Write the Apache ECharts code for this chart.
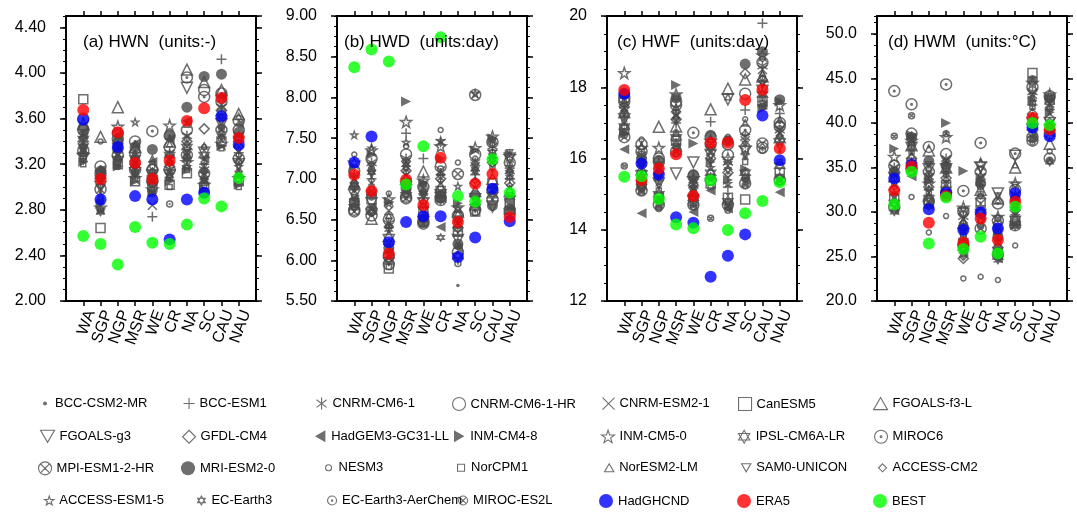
<!DOCTYPE html>
<html><head><meta charset="utf-8">
<script src="https://cdn.jsdelivr.net/npm/echarts@6.0.0/dist/echarts.min.js"></script>
<style>html,body{margin:0;padding:0;background:#fff;}#c{width:1077px;height:512px;}</style>
</head><body><div id="c"></div>
<script>
const categories = ['WA','SGP','NGP','MSR','WE','CR','NA','SC','CAU','NAU'];
const models = ['BCC-CSM2-MR','BCC-ESM1','CNRM-CM6-1','CNRM-CM6-1-HR','CNRM-ESM2-1','CanESM5','FGOALS-f3-L',
 'FGOALS-g3','GFDL-CM4','HadGEM3-GC31-LL','INM-CM4-8','INM-CM5-0','IPSL-CM6A-LR','MIROC6',
 'MPI-ESM1-2-HR','MRI-ESM2-0','NESM3','NorCPM1','NorESM2-LM','SAM0-UNICON','ACCESS-CM2',
 'ACCESS-ESM1-5','EC-Earth3','EC-Earth3-AerChem','MIROC-ES2L'];
const obsNames = ['HadGHCND','ERA5','BEST'];

// (a) HWN, one row per model, columns follow categories
const hwnModels = [
 [3.30,2.95,3.25,3.10,3.05,3.12,3.20,3.05,3.45,3.15],
 [3.35,3.02,3.30,3.15,2.74,3.20,3.25,3.20,4.12,3.30],
 [3.45,3.10,3.38,3.28,3.10,3.30,3.45,3.15,3.70,3.45],
 [3.50,3.12,3.42,3.30,3.15,3.35,3.50,3.85,3.75,3.50],
 [3.40,3.05,3.35,3.22,2.84,3.25,3.30,3.10,3.72,3.40],
 [3.77,2.64,3.20,3.05,3.00,3.02,3.12,3.00,3.40,3.05],
 [3.55,3.44,3.70,3.35,3.20,3.40,4.03,3.92,3.85,3.64],
 [3.25,3.00,3.22,3.12,3.00,3.10,3.87,3.30,3.55,3.20],
 [3.38,3.08,3.32,3.20,3.08,3.18,3.40,3.51,3.60,3.35],
 [3.48,3.15,3.45,3.38,3.22,3.42,3.58,3.25,3.80,3.55],
 [3.22,2.85,3.18,3.05,2.95,3.05,3.15,2.98,3.36,3.02],
 [3.28,2.82,3.53,3.08,2.98,3.54,3.22,3.02,3.38,3.08],
 [3.42,3.12,3.36,3.25,3.12,3.28,3.35,3.28,3.65,3.42],
 [3.60,3.18,3.47,3.40,3.49,3.45,3.96,3.79,3.82,3.58],
 [3.32,2.98,3.28,3.15,3.05,3.15,3.28,3.12,3.50,3.25],
 [3.52,3.14,3.40,3.35,3.33,3.45,3.70,3.97,3.99,3.48],
 [3.36,3.40,3.26,3.18,3.18,3.22,3.42,3.35,3.62,3.28],
 [3.20,2.90,3.20,3.10,3.02,3.00,3.15,3.05,3.34,3.00],
 [3.46,3.10,3.44,3.30,3.25,3.38,3.55,3.36,3.78,3.62],
 [3.34,3.00,3.30,3.16,3.10,3.20,3.32,3.18,3.56,3.32],
 [3.44,3.06,3.34,3.24,3.14,3.26,3.38,3.22,3.62,3.38],
 [3.36,2.80,3.30,3.57,3.06,3.14,3.18,3.08,3.48,3.18],
 [3.32,2.78,3.24,3.12,2.96,3.10,3.24,3.06,3.44,3.12],
 [3.30,2.80,3.22,3.14,2.94,2.85,3.26,3.04,3.42,3.10],
 [3.26,2.88,3.18,3.20,3.04,3.08,3.30,3.14,3.52,3.22]
];
const hwnHadGHCND = [3.59,2.89,3.35,2.92,2.89,2.54,2.89,2.95,3.62,3.37];
const hwnERA5     = [3.675,3.07,3.48,3.21,3.07,3.23,3.58,3.69,3.78,3.43];
const hwnBEST     = [2.57,2.50,2.32,2.65,2.51,2.50,2.67,2.90,2.83,3.08];

// (b) HWD
const hwdModels = [
 [6.85,6.95,6.35,7.05,6.75,6.95,5.69,7.00,7.10,6.90],
 [6.90,7.00,6.40,7.56,7.25,7.05,6.30,7.05,7.35,7.00],
 [7.05,7.20,6.45,7.25,6.85,7.45,6.45,7.20,7.40,7.10],
 [7.10,7.25,6.50,7.30,6.90,7.15,6.55,7.30,7.45,7.20],
 [7.00,7.15,6.61,7.20,6.80,7.10,6.50,7.15,7.30,7.05],
 [6.70,6.75,5.90,6.95,6.60,6.85,6.35,6.60,6.95,6.70],
 [6.95,6.51,6.30,7.00,7.09,6.90,6.60,6.85,7.00,6.85],
 [6.80,6.70,6.25,6.90,6.70,6.80,6.25,6.75,6.66,7.25],
 [6.90,6.85,6.20,7.10,6.65,7.00,6.40,6.95,7.20,6.95],
 [6.75,6.65,6.10,6.85,6.55,6.41,6.15,6.70,6.90,6.65],
 [7.15,7.30,6.72,7.95,6.95,7.25,6.70,7.35,7.50,7.30],
 [7.20,7.35,6.75,7.70,6.98,7.40,6.65,7.38,7.52,7.28],
 [6.65,6.60,6.00,6.80,6.50,6.75,6.05,6.65,6.80,6.60],
 [6.62,6.55,5.95,6.78,6.48,6.78,6.10,6.62,6.75,6.58],
 [6.60,6.62,6.05,6.76,6.45,6.74,7.06,8.03,6.85,6.62],
 [6.72,6.80,6.15,6.88,6.46,6.78,6.20,6.80,6.67,6.75],
 [7.30,7.18,6.82,7.40,6.92,7.60,7.20,7.25,7.42,7.18],
 [6.78,6.90,5.92,6.92,6.62,6.88,6.62,6.58,7.15,6.80],
 [6.98,7.10,6.55,7.15,6.88,7.08,6.58,7.10,7.25,7.12],
 [6.88,7.05,6.48,7.12,6.78,7.02,6.48,7.08,7.22,7.32],
 [6.82,6.98,6.42,7.08,6.72,6.98,6.42,6.98,7.18,6.92],
 [7.54,7.38,6.70,7.45,6.95,7.47,6.91,8.05,7.48,7.15],
 [6.92,7.08,6.38,7.18,6.82,6.28,6.38,7.12,7.28,7.02],
 [6.94,7.12,6.42,7.22,6.84,7.12,5.96,7.18,7.32,7.08],
 [6.66,6.58,6.02,6.82,6.52,6.82,6.18,6.68,6.82,6.64]
];
const hwdHadGHCND = [7.20,7.52,6.22,6.47,6.54,6.54,6.04,6.28,6.88,6.48];
const hwdERA5     = [7.05,6.85,6.08,6.99,6.68,7.26,6.47,6.94,7.06,6.53];
const hwdBEST     = [8.37,8.59,8.44,6.93,7.40,8.74,6.79,6.72,7.24,6.83];

// (c) HWF
const hwfModels = [
 [17.00,15.60,15.20,16.80,15.00,15.80,15.00,16.00,18.00,16.20],
 [17.20,15.80,15.40,17.00,15.20,17.03,15.20,17.36,19.80,17.26],
 [17.50,16.10,15.80,17.40,15.40,16.30,15.90,16.60,18.60,16.80],
 [17.60,16.20,15.90,17.50,15.50,16.40,16.10,17.82,18.70,16.90],
 [17.40,16.00,15.70,17.20,15.30,16.20,15.80,16.50,18.50,16.70],
 [16.80,15.30,14.90,16.50,14.80,15.30,14.90,14.85,17.60,15.60],
 [17.30,15.70,16.89,16.90,15.10,17.38,17.96,18.22,18.30,16.60],
 [17.10,15.50,15.30,15.58,15.89,16.10,17.66,16.20,17.90,16.40],
 [17.45,15.90,15.60,17.10,15.25,16.00,15.60,18.38,18.20,16.95],
 [16.26,14.46,14.80,16.30,14.50,15.10,14.60,15.40,17.50,15.05],
 [16.70,15.40,15.50,18.06,16.42,15.90,15.40,15.70,17.40,17.60],
 [18.40,16.30,16.30,17.80,15.45,16.50,16.00,16.30,18.90,17.50],
 [16.90,15.20,15.00,16.60,14.90,15.60,14.80,15.60,17.80,15.80],
 [17.70,16.40,16.00,17.60,16.72,16.60,16.40,16.80,16.30,17.00],
 [16.60,15.10,14.70,16.20,14.70,15.40,14.70,15.30,16.42,15.40],
 [17.80,16.00,15.95,17.70,15.55,16.65,16.50,18.65,19.00,17.65],
 [17.55,16.53,15.85,17.30,15.35,16.25,16.61,17.10,18.80,16.85],
 [16.90,15.40,15.10,16.70,15.05,15.20,16.55,15.90,17.70,15.90],
 [17.65,16.35,15.75,17.45,15.45,16.55,17.73,17.00,18.40,17.10],
 [17.25,15.75,15.45,17.05,15.15,16.05,15.65,16.40,18.10,16.55],
 [17.35,15.85,15.55,17.15,15.22,15.95,15.55,16.70,18.25,16.65],
 [17.15,15.65,15.35,17.25,15.12,15.75,15.30,16.10,18.15,16.45],
 [16.75,15.25,14.85,16.45,14.85,15.50,14.75,15.50,17.55,15.50],
 [16.65,15.15,14.60,16.35,14.75,15.45,14.65,15.45,16.23,15.45],
 [15.79,15.05,14.65,16.15,14.65,14.32,14.55,15.25,17.45,15.35]
];
const hwfHadGHCND = [17.82,15.86,15.55,14.35,14.20,12.68,13.27,13.87,17.21,15.95];
const hwfERA5     = [17.92,15.39,15.72,16.12,14.95,16.44,16.45,17.64,17.93,16.28];
const hwfBEST     = [15.49,15.50,14.86,14.15,14.04,15.39,13.99,14.46,14.81,15.33];

// (d) HWM
const hwmModels = [
 [33.0,36.5,32.0,34.0,28.0,35.8,27.0,30.0,41.5,41.0],
 [33.5,37.0,32.5,34.5,28.5,33.0,27.5,30.5,42.0,41.5],
 [35.0,38.5,34.0,36.0,29.5,34.0,28.5,32.0,43.5,42.5],
 [35.2,38.8,34.5,36.5,30.0,34.5,29.0,32.5,44.0,43.0],
 [34.8,38.2,33.8,35.8,29.2,33.8,28.2,31.8,43.2,42.2],
 [31.5,35.5,31.0,33.0,26.5,31.0,25.5,29.0,45.59,42.6],
 [34.0,37.5,36.9,35.0,28.8,32.5,31.5,35.0,40.5,37.67],
 [33.8,37.2,34.8,34.8,29.8,35.0,32.07,36.3,40.0,40.0],
 [32.5,36.0,32.8,33.8,24.78,31.5,26.0,30.2,41.0,40.5],
 [30.2,34.0,30.8,31.8,25.5,29.5,24.8,28.7,38.5,39.0],
 [37.1,38.6,33.5,39.99,34.6,33.5,28.0,28.5,42.5,41.2],
 [36.2,38.0,33.2,38.4,30.5,35.4,29.45,33.2,44.5,43.2],
 [31.0,35.2,31.5,32.5,26.0,30.0,25.0,29.2,39.5,39.5],
 [43.57,42.08,37.3,44.32,32.36,37.75,30.95,36.55,38.0,36.0],
 [30.5,34.8,31.2,32.2,26.2,28.14,25.2,28.5,38.4,38.8],
 [34.5,38.4,35.7,35.2,28.2,33.2,27.2,31.5,44.77,42.8],
 [32.0,31.69,27.7,29.53,22.54,22.73,22.35,26.24,37.8,36.8],
 [33.2,36.8,32.2,34.2,27.5,32.0,26.5,30.8,41.8,42.7],
 [34.2,37.8,35.0,35.5,29.0,34.2,31.3,35.3,42.8,41.8],
 [34.6,38.3,35.3,35.6,30.2,34.8,31.8,33.0,43.0,42.3],
 [32.8,36.2,32.5,33.6,24.9,31.8,26.2,30.4,40.8,40.2],
 [31.8,35.6,31.8,33.2,26.8,30.6,25.8,29.6,40.2,39.8],
 [30.0,35.0,30.6,32.0,25.2,29.0,24.6,28.4,38.2,35.6],
 [34.4,37.6,33.6,34.6,27.2,32.8,27.8,31.2,42.2,41.6],
 [38.49,40.81,34.2,38.79,27.8,28.4,29.3,30.1,39.2,35.8]
];
const hwmHadGHCND = [33.75,35.30,30.31,32.14,27.96,29.94,28.14,32.07,39.45,38.49];
const hwmERA5     = [32.44,35.10,28.78,31.80,26.54,29.27,26.84,31.13,40.58,39.27];
const hwmBEST     = [30.83,34.50,26.46,31.62,25.83,27.21,25.34,30.57,39.99,39.73];

const panelTitles = ['(a) HWN  (units:-)','(b) HWD  (units:day)','(c) HWF  (units:day)','(d) HWM  (units:°C)'];

// ---------- styling / layout ----------
const FONT = 'Liberation Sans, Arial, Helvetica, sans-serif';
const GRAY = '#4a4a4a';
const S = {
 circle:'path://M0,10A10,10,0,1,1,20,10A10,10,0,1,1,0,10Z',
 rect:'path://M0,0L10,0L10,10L0,10Z',
 tup:'path://M5,0L10,8.66L0,8.66Z',
 diamond:'path://M5,0L10,5L5,10L0,5Z',
 plus:'path://M5,0L5,10M0,5L10,5',
 aster:'path://M5,0L5,10M0.8,1.8L9.2,8.2M0.8,8.2L9.2,1.8',
 cross:'path://M0,0L10,10M10,0L0,10',
 tdown:'path://M0,0L10,0L5,8.66Z',
 tleft:'path://M0,5L8.66,0L8.66,10Z',
 tright:'path://M0,0L8.66,5L0,10Z',
 star:'path://M10,0L12.35,6.76L19.51,6.91L13.8,11.24L15.88,18.09L10,14L4.12,18.09L6.2,11.24L0.49,6.91L7.65,6.76Z',
 hexa:'path://M5,0L9.33,7.5L0.67,7.5ZM5,10L0.67,2.5L9.33,2.5Z',
 cdot:'path://M0,10A10,10,0,1,1,20,10A10,10,0,1,1,0,10ZM8.6,10A1.4,1.4,0,1,1,11.4,10A1.4,1.4,0,1,1,8.6,10Z',
 cx:'path://M0,10A10,10,0,1,1,20,10A10,10,0,1,1,0,10ZM2.93,2.93L17.07,17.07M17.07,2.93L2.93,17.07'
};
// [symbol, plotSize, filled, legendSize]
const modelStyle = [
 [S.circle,3.5,true,4],[S.plus,10,false,11],[S.aster,10,false,12],[S.circle,11,false,13],
 [S.cross,9,false,12],[S.rect,9,false,13],[S.tup,11,false,14],[S.tdown,11,false,14],
 [S.diamond,10,false,13],[S.tleft,10,true,12],[S.tright,10,true,12],[S.star,11,false,13],
 [S.hexa,10,false,13],[S.cdot,11,false,13],[S.cx,11,false,13],[S.circle,11,true,14],
 [S.circle,5,false,6],[S.rect,5,false,7],[S.tup,6,false,8],[S.tdown,6,false,8],
 [S.diamond,6,false,8],[S.star,7,false,9],[S.hexa,7,false,9],[S.cdot,6,false,9],[S.cx,6,false,9]
];
const obsColors = ['#0000ff','#ff0000','#00ff00'];

const panelData = [
 {models:hwnModels, obs:[hwnHadGHCND,hwnERA5,hwnBEST]},
 {models:hwdModels, obs:[hwdHadGHCND,hwdERA5,hwdBEST]},
 {models:hwfModels, obs:[hwfHadGHCND,hwfERA5,hwfBEST]},
 {models:hwmModels, obs:[hwmHadGHCND,hwmERA5,hwmBEST]}
];
const axisCfg = [
 {min:2.0,max:4.5,interval:0.4,minor:0.1,dec:2,showMax:false},
 {min:5.5,max:9.0,interval:0.5,minor:0.125,dec:2,showMax:true},
 {min:12,max:20,interval:2,minor:0.5,dec:0,showMax:true},
 {min:20,max:52,interval:5,minor:1.25,dec:1,showMax:false}
];
const gridLeft = [66, 337, 607, 877];
const gridW = 190, gridTop = 16, gridH = 285;
const titlePos = [[83,34],[344,34],[617,34],[888,34]];

const xCats = [''].concat(categories, ['']);
const tickFn = (i) => i > 0 && i < xCats.length - 1;

const option = {
 animation:false,
 backgroundColor:'#fff',
 textStyle:{fontFamily:FONT},
 title:[], grid:[], xAxis:[], yAxis:[], series:[], legend:[]
};

const blackLine = {color:'#000', width:2};
for (let p=0;p<4;p++){
 const a = axisCfg[p];
 option.grid.push({left:gridLeft[p], top:gridTop, width:gridW, height:gridH, outerBoundsMode:'none', containLabel:false});
 option.title.push({text:panelTitles[p], left:titlePos[p][0], top:titlePos[p][1], padding:0,
   textStyle:{fontSize:17, fontWeight:'normal', color:'#000', fontFamily:FONT}});
 option.xAxis.push({type:'category', gridIndex:p, data:xCats, boundaryGap:false, position:'bottom',
   axisLine:{lineStyle:blackLine}, axisTick:{interval:tickFn, length:5, lineStyle:{color:'#000',width:1.5}},
   axisLabel:{interval:0, rotate:70, fontSize:16, color:'#000', margin:7, verticalAlign:'top', fontFamily:FONT},
   splitLine:{show:false}});
 option.xAxis.push({type:'category', gridIndex:p, data:xCats, boundaryGap:false, position:'top',
   axisLine:{lineStyle:blackLine}, axisTick:{interval:tickFn, length:5, lineStyle:{color:'#000',width:1.5}},
   axisLabel:{show:false}, splitLine:{show:false}});
 const base = {type:'value', gridIndex:p, min:a.min, max:a.max, splitLine:{show:false}};
 option.yAxis.push(Object.assign({}, base, {position:'left', interval:a.interval,
   axisLine:{show:true, lineStyle:blackLine}, axisTick:{show:true, length:6, lineStyle:{color:'#000',width:1.5}},
   axisLabel:{show:true, fontSize:16, color:'#000', margin:20, fontFamily:FONT, showMaxLabel:a.showMax, showMinLabel:true,
     formatter:(v)=>v.toFixed(a.dec)}}));
 option.yAxis.push(Object.assign({}, base, {position:'left', interval:a.minor,
   axisLine:{show:false}, axisTick:{show:true, length:3, lineStyle:{color:'#000',width:1}}, axisLabel:{show:false}}));
 option.yAxis.push(Object.assign({}, base, {position:'right', interval:a.interval,
   axisLine:{show:true, lineStyle:blackLine}, axisTick:{show:true, length:6, lineStyle:{color:'#000',width:1.5}}, axisLabel:{show:false}}));
 option.yAxis.push(Object.assign({}, base, {position:'right', interval:a.minor,
   axisLine:{show:false}, axisTick:{show:true, length:3, lineStyle:{color:'#000',width:1}}, axisLabel:{show:false}}));

 const pd = panelData[p];
 models.forEach((name,m)=>{
   const st = modelStyle[m];
   option.series.push({name, type:'scatter', xAxisIndex:2*p, yAxisIndex:4*p,
     symbol:st[0], symbolSize:st[1], silent:true,
     itemStyle: st[2] ? {color:GRAY, borderWidth:0} : {color:'rgba(0,0,0,0)', borderColor:GRAY, borderWidth:1.5},
     data: categories.map((c,i)=>[c, pd.models[m][i]])});
 });
 obsNames.forEach((name,k)=>{
   option.series.push({name, type:'scatter', xAxisIndex:2*p, yAxisIndex:4*p,
     symbol:S.circle, symbolSize:12, silent:true, z:3,
     itemStyle:{color:obsColors[k], borderWidth:0},
     data: categories.map((c,i)=>[c, pd.obs[k][i]])});
 });
}

// legend: 7 columns x 4 rows; text start x per row/column
const legendTextX = [
 [58, 199, 333, 470, 619, 756, 892],
 [59, 200, 332, 471, 619, 756, 892],
 [56, 200, 340, 472, 619, 756, 893],
 [59, 212, 342, 473, 618, 756, 892]
];
const rowY = [404, 436.7, 468.3, 501];
const legendNames = models.concat(obsNames);
legendNames.forEach((name,k)=>{
 const col = k % 7, row = Math.floor(k/7);
 const filled = k >= 25 ? true : modelStyle[k][2];
 const w = k >= 25 ? 14 : modelStyle[k][3];
 const box = Math.max(w, 10);
 const h = Math.max(w, 14);
 option.legend.push({data:[name], left: legendTextX[row][col] - box - 5, top: rowY[row] - h/2, padding:0,
   itemWidth:box, itemHeight:w, symbolKeepAspect:true, selectedMode:false, orient:'horizontal',
   itemStyle:{borderWidth: filled ? 0 : 1.1},
   textStyle:{fontSize:13, color:'#000', fontFamily:FONT}});
});

const chart = echarts.init(document.getElementById('c'), null, {renderer:'canvas'});
chart.setOption(option);
</script></body></html>
